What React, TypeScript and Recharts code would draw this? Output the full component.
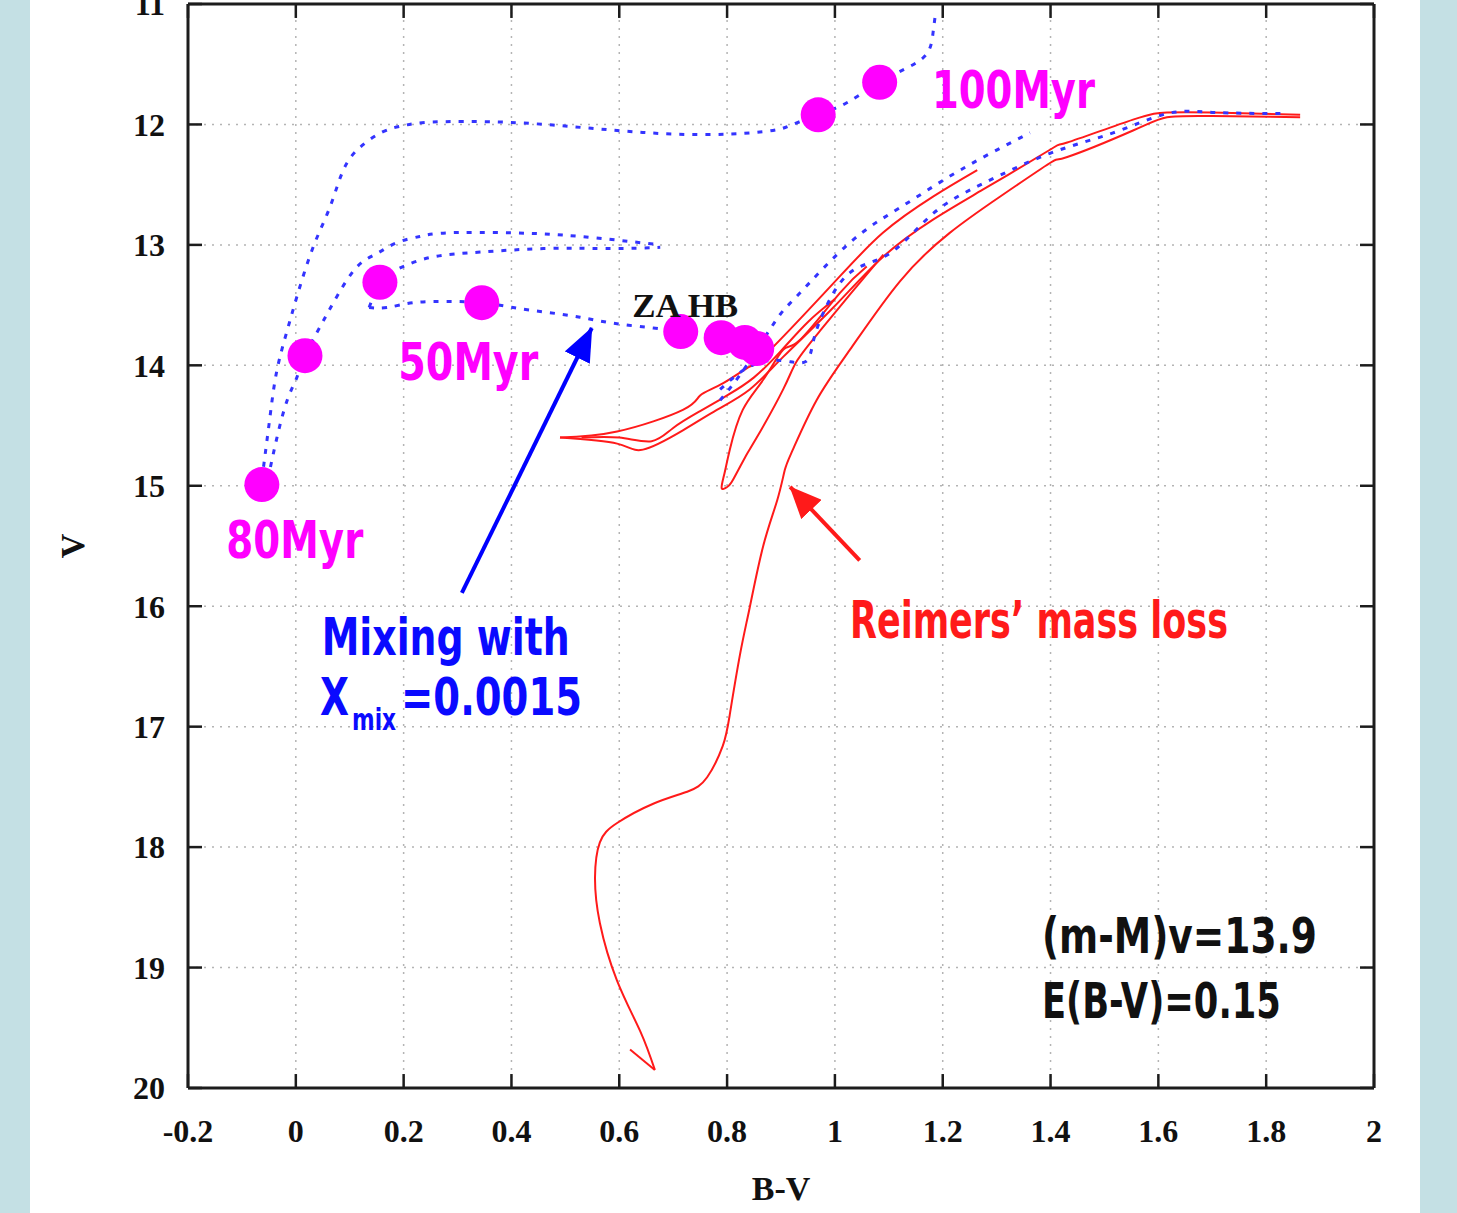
import React from "react";
import {
  ComposedChart, Line, Scatter, XAxis, YAxis, CartesianGrid, ReferenceDot, ReferenceLine,
} from "recharts";

type Pt = [number, number]; // [B-V, V]

// isochrones computed with mixing (dotted blue)
const ISO_100: Pt[] = [
  [-0.063, 14.95], [-0.048, 14.43], [-0.035, 14.04], [-0.016, 13.71], [0.002, 13.43],
  [0.032, 13.02], [0.063, 12.69], [0.088, 12.38], [0.119, 12.19], [0.162, 12.06],
  [0.199, 12.01], [0.254, 11.98], [0.379, 11.98], [0.49, 12.01], [0.596, 12.05],
  [0.7, 12.08], [0.805, 12.08], [0.885, 12.05], [0.922, 12.0], [0.969, 11.92],
  [1.022, 11.82], [1.083, 11.65], [1.134, 11.53], [1.171, 11.41], [1.182, 11.24], [1.186, 11.1],
];
const ISO_80: Pt[] = [
  [-0.052, 14.95], [-0.035, 14.6], [-0.016, 14.29], [0.002, 14.1], [0.017, 13.92],
  [0.045, 13.68], [0.076, 13.43], [0.114, 13.18], [0.151, 13.07], [0.188, 12.98],
  [0.23, 12.93], [0.28, 12.9], [0.403, 12.9], [0.527, 12.93], [0.676, 13.0],
];
const ISO_60: Pt[] = [
  [0.136, 13.52], [0.146, 13.4], [0.156, 13.31], [0.175, 13.24], [0.199, 13.18],
  [0.254, 13.1], [0.342, 13.06], [0.466, 13.03], [0.588, 13.03], [0.676, 13.02],
];
const ISO_50: Pt[] = [
  [0.136, 13.52], [0.169, 13.52], [0.218, 13.48], [0.28, 13.47], [0.345, 13.48],
  [0.403, 13.52], [0.466, 13.56], [0.527, 13.6], [0.588, 13.65], [0.663, 13.69],
  [0.714, 13.72], [0.789, 13.77], [0.833, 13.81], [0.855, 13.86],
];
const MIX_RGB_UPPER: Pt[] = [
  [0.787, 14.29], [0.824, 14.08], [0.861, 13.83], [0.898, 13.58], [0.935, 13.4],
  [1.028, 12.98], [1.121, 12.69], [1.232, 12.38], [1.362, 12.07],
];
const MIX_RGB_LOWER: Pt[] = [
  [0.787, 14.2], [0.842, 14.01], [0.9, 13.96], [0.945, 13.97], [0.96, 13.8],
  [0.98, 13.55], [1.028, 13.23], [1.102, 13.07], [1.182, 12.74], [1.275, 12.49],
  [1.399, 12.24], [1.516, 12.07], [1.616, 11.91], [1.7, 11.9], [1.831, 11.91],
];

// Reimers mass-loss track (solid red)
const REIMERS_HOOK: Pt[] = [[0.62, 19.68], [0.666, 19.85]];
const REIMERS_RGB: Pt[] = [
  [0.666, 19.85], [0.639, 19.53], [0.596, 19.11], [0.564, 18.63], [0.555, 18.25],
  [0.564, 17.96], [0.596, 17.8], [0.663, 17.64], [0.726, 17.54], [0.763, 17.42],
  [0.792, 17.16], [0.805, 16.9], [0.824, 16.4], [0.842, 16.01], [0.867, 15.5],
  [0.893, 15.12], [0.907, 14.87], [0.922, 14.7], [0.966, 14.29], [1.028, 13.87],
  [1.121, 13.3], [1.213, 12.9], [1.306, 12.6], [1.399, 12.32], [1.431, 12.27],
  [1.553, 12.05], [1.616, 11.94], [1.7, 11.93], [1.863, 11.94],
];
const REIMERS_HB_UPPER: Pt[] = [
  [0.49, 14.6], [0.596, 14.55], [0.718, 14.37], [0.75, 14.25], [0.792, 14.15],
  [0.842, 14.01], [0.874, 13.9], [0.997, 13.32], [1.089, 12.9], [1.182, 12.6], [1.264, 12.38],
];
const REIMERS_HB_LOWER: Pt[] = [
  [0.49, 14.6], [0.596, 14.65], [0.644, 14.7], [0.718, 14.54], [0.781, 14.37],
  [0.842, 14.2], [0.904, 13.93], [0.997, 13.52], [1.089, 13.1], [1.182, 12.79],
  [1.275, 12.54], [1.399, 12.21], [1.431, 12.15], [1.553, 11.96], [1.616, 11.9],
  [1.7, 11.9], [1.863, 11.92],
];
const REIMERS_HB_MID: Pt[] = [
  [0.53, 14.6], [0.6, 14.6], [0.66, 14.63], [0.7, 14.52], [0.75, 14.38],
  [0.8, 14.25], [0.85, 14.1], [0.9, 13.88], [0.95, 13.64], [1.0, 13.45],
];
const REIMERS_LOOP: Pt[] = [
  [1.059, 13.18], [1.009, 13.4], [0.935, 13.79], [0.904, 13.87], [0.867, 14.12],
  [0.829, 14.37], [0.805, 14.7], [0.795, 14.9], [0.79, 15.02], [0.8, 15.01],
  [0.811, 14.95], [0.835, 14.75], [0.855, 14.6], [0.904, 14.2], [0.93, 13.96],
  [0.973, 13.71], [1.03, 13.4], [1.09, 13.08],
];

// age markers and ZAHB markers
const AGE_DOTS: Pt[] = [
  [-0.063, 14.99], [0.017, 13.92], [0.156, 13.31], [0.345, 13.48], [0.969, 11.92], [1.083, 11.65],
];
const ZAHB_DOTS: Pt[] = [[0.714, 13.72], [0.789, 13.77], [0.833, 13.81], [0.855, 13.86]];

// annotation arrows
const MIX_ARROW: Pt[] = [[0.308, 15.89], [0.549, 13.69]];
const REIMERS_ARROW: Pt[] = [[1.046, 15.62], [0.917, 15.01]];

const X_DOMAIN: [number, number] = [-0.2, 2];
const Y_DOMAIN: [number, number] = [11, 20];
const X_TICKS = [-0.2, 0, 0.2, 0.4, 0.6, 0.8, 1, 1.2, 1.4, 1.6, 1.8, 2];
const Y_TICKS = [11, 12, 13, 14, 15, 16, 17, 18, 19, 20];
// inward tick length, in axis units (about 14px each way)
const TICK_V = 0.116;
const TICK_BV = 0.026;

const MAGENTA = "#ff00ff";
const BLUE = "#3434ff";
const BLUE_TEXT = "#0a0aff";
const RED = "#ff1a1a";
const INK = "#111111";
const FRAME = "#1c1c1c";
const HAND = "'DejaVu Sans Condensed', 'DejaVu Sans', sans-serif";
const SERIF = "'Liberation Serif', 'Times New Roman', serif";

const NOTES = [
  { id: "a100", text: "100Myr", bv: 1.18, v: 11.86, width: 163, fill: MAGENTA, font: HAND, size: 52 },
  { id: "a50", text: "50Myr", bv: 0.19, v: 14.12, width: 140, fill: MAGENTA, font: HAND, size: 52 },
  { id: "a80", text: "80Myr", bv: -0.129, v: 15.6, width: 137, fill: MAGENTA, font: HAND, size: 52 },
  { id: "zahb", text: "ZA HB", bv: 0.624, v: 13.6, width: 106, fill: INK, font: SERIF, size: 34 },
  { id: "mix", text: "Mixing with", bv: 0.048, v: 16.405, width: 248, fill: BLUE_TEXT, font: HAND, size: 52 },
  { id: "reim", text: "Reimers\u2019 mass loss", bv: 1.028, v: 16.264, width: 378, fill: RED, font: HAND, size: 52 },
  { id: "dm", text: "(m-M)v=13.9", bv: 1.384, v: 18.88, width: 275, fill: INK, font: HAND, size: 50 },
  { id: "ebv", text: "E(B-V)=0.15", bv: 1.384, v: 19.42, width: 239, fill: INK, font: HAND, size: 50 },
];

const rows = (pts: Pt[]) => pts.map(([bv, v]) => ({ bv, v }));

const dotted = { stroke: BLUE, strokeWidth: 3, strokeDasharray: "5 8" };
const solid = { stroke: RED, strokeWidth: 2 };

const trackList = [
  { key: "hook", pts: REIMERS_HOOK, style: solid, type: "linear" },
  { key: "rgb", pts: REIMERS_RGB, style: solid, type: "natural" },
  { key: "hbU", pts: REIMERS_HB_UPPER, style: solid, type: "natural" },
  { key: "hbL", pts: REIMERS_HB_LOWER, style: solid, type: "natural" },
  { key: "hbM", pts: REIMERS_HB_MID, style: solid, type: "natural" },
  { key: "loop", pts: REIMERS_LOOP, style: solid, type: "natural" },
  { key: "i100", pts: ISO_100, style: dotted, type: "natural" },
  { key: "i80", pts: ISO_80, style: dotted, type: "natural" },
  { key: "i60", pts: ISO_60, style: dotted, type: "natural" },
  { key: "i50", pts: ISO_50, style: dotted, type: "natural" },
  { key: "gU", pts: MIX_RGB_UPPER, style: dotted, type: "natural" },
  { key: "gL", pts: MIX_RGB_LOWER, style: dotted, type: "natural" },
];

// short inward tick marks on all four sides of the frame
const tickSegments = [
  ...X_TICKS.flatMap((t) => [
    { key: `xb${t}`, seg: [{ x: t, y: Y_DOMAIN[1] }, { x: t, y: Y_DOMAIN[1] - TICK_V }] },
    { key: `xt${t}`, seg: [{ x: t, y: Y_DOMAIN[0] }, { x: t, y: Y_DOMAIN[0] + TICK_V }] },
  ]),
  ...Y_TICKS.flatMap((t) => [
    { key: `yl${t}`, seg: [{ x: X_DOMAIN[0], y: t }, { x: X_DOMAIN[0] + TICK_BV, y: t }] },
    { key: `yr${t}`, seg: [{ x: X_DOMAIN[1], y: t }, { x: X_DOMAIN[1] - TICK_BV, y: t }] },
  ]),
];

const Blob = (p: any) => <circle cx={p.cx} cy={p.cy} r={17.5} fill={MAGENTA} />;

export default function App() {
  return (
    <div style={{ position: "relative", width: 1457, height: 1213, background: "#c4e0e4", overflow: "hidden" }}>
      <style>{"body{margin:0}"}</style>
      <div style={{ position: "absolute", left: 30, top: 0, width: 1390, height: 1213, background: "#fff" }} />
      <div style={{ position: "absolute", left: 0, top: 0 }}>
        <ComposedChart width={1457} height={1213} margin={{ top: 4, right: 83, bottom: 0, left: 0 }}>
          <defs>
            <marker id="headBlue" viewBox="0 0 34 28" refX="33" refY="14" markerWidth="34" markerHeight="28"
              markerUnits="userSpaceOnUse" orient="auto">
              <path d="M0,0 L34,14 L0,28 z" fill="#0000ff" />
            </marker>
            <marker id="headRed" viewBox="0 0 32 28" refX="31" refY="14" markerWidth="32" markerHeight="28"
              markerUnits="userSpaceOnUse" orient="auto">
              <path d="M0,0 L32,14 L0,28 z" fill={RED} />
            </marker>
          </defs>
          <CartesianGrid stroke="#b4b4b4" strokeWidth={1.5} strokeDasharray="2 6" />
          <XAxis
            dataKey="bv" type="number" domain={X_DOMAIN} ticks={X_TICKS} allowDataOverflow interval={0}
            tickFormatter={(t: number) => String(+t.toFixed(1))}
            height={125} tickLine={false} tickMargin={25}
            axisLine={{ stroke: FRAME, strokeWidth: 3 }}
            tick={{ fill: INK, fontSize: 32, fontFamily: SERIF, fontWeight: 700 }}
            label={(p: any) => (
              <text x={p.viewBox.x + p.viewBox.width / 2} y={p.viewBox.y + 112} textAnchor="middle"
                fill={INK} fontSize={34} fontFamily={SERIF} fontWeight={700}>B-V</text>
            )}
          />
          <YAxis
            dataKey="v" type="number" domain={Y_DOMAIN} ticks={Y_TICKS} reversed allowDataOverflow interval={0}
            width={188} tickLine={false} tickMargin={17}
            axisLine={{ stroke: FRAME, strokeWidth: 3 }}
            tick={{ fill: INK, fontSize: 32, fontFamily: SERIF, fontWeight: 700 }}
            label={(p: any) => {
              const cx = p.viewBox.x + 72;
              const cy = p.viewBox.y + p.viewBox.height / 2;
              return (
                <text x={cx} y={cy} transform={`rotate(-90 ${cx} ${cy})`} textAnchor="middle"
                  dominantBaseline="central" fill={INK} fontSize={34} fontFamily={SERIF} fontWeight={700}>V</text>
              );
            }}
          />

          <ReferenceLine y={Y_DOMAIN[0]} stroke={FRAME} strokeWidth={3} />
          <ReferenceLine x={X_DOMAIN[1]} stroke={FRAME} strokeWidth={3} />
          {tickSegments.map((s) => (
            <ReferenceLine key={s.key} segment={s.seg} stroke={FRAME} strokeWidth={2.5} />
          ))}

          {trackList.map((t) => (
            <Line
              key={t.key} data={rows(t.pts)} dataKey="v" type={t.type as any}
              {...t.style} dot={false} activeDot={false} legendType="none"
              isAnimationActive={false}
            />
          ))}

          <Line data={rows(MIX_ARROW)} dataKey="v" type="linear" stroke="#0000ff" strokeWidth={4}
            markerEnd="url(#headBlue)" dot={false} activeDot={false} isAnimationActive={false} />
          <Line data={rows(REIMERS_ARROW)} dataKey="v" type="linear" stroke={RED} strokeWidth={4}
            markerEnd="url(#headRed)" dot={false} activeDot={false} isAnimationActive={false} />

          <Scatter data={rows(AGE_DOTS)} dataKey="v" shape={Blob} isAnimationActive={false} />
          <Scatter data={rows(ZAHB_DOTS)} dataKey="v" shape={Blob} isAnimationActive={false} />

          {NOTES.map((n) => (
            <ReferenceDot
              key={n.id} x={n.bv} y={n.v} r={0} ifOverflow="visible" fill="none" stroke="none"
              label={(p: any) => (
                <text x={p.viewBox.x} y={p.viewBox.y} fill={n.fill} fontSize={n.size}
                  fontFamily={n.font} fontWeight={700} textLength={n.width} lengthAdjust="spacingAndGlyphs">
                  {n.text}
                </text>
              )}
            />
          ))}
          <ReferenceDot
            x={0.045} y={16.9} r={0} ifOverflow="visible" fill="none" stroke="none"
            label={(p: any) => {
              const { x, y } = p.viewBox;
              const common = { fill: BLUE_TEXT, fontFamily: HAND, fontWeight: 700 } as const;
              return (
                <g>
                  <text x={x} y={y} fontSize={52} textLength={29} lengthAdjust="spacingAndGlyphs" {...common}>X</text>
                  <text x={x + 32} y={y + 15} fontSize={30} textLength={44} lengthAdjust="spacingAndGlyphs" {...common}>mix</text>
                  <text x={x + 81} y={y} fontSize={52} textLength={181} lengthAdjust="spacingAndGlyphs" {...common}>=0.0015</text>
                </g>
              );
            }}
          />
        </ComposedChart>
      </div>
    </div>
  );
}
